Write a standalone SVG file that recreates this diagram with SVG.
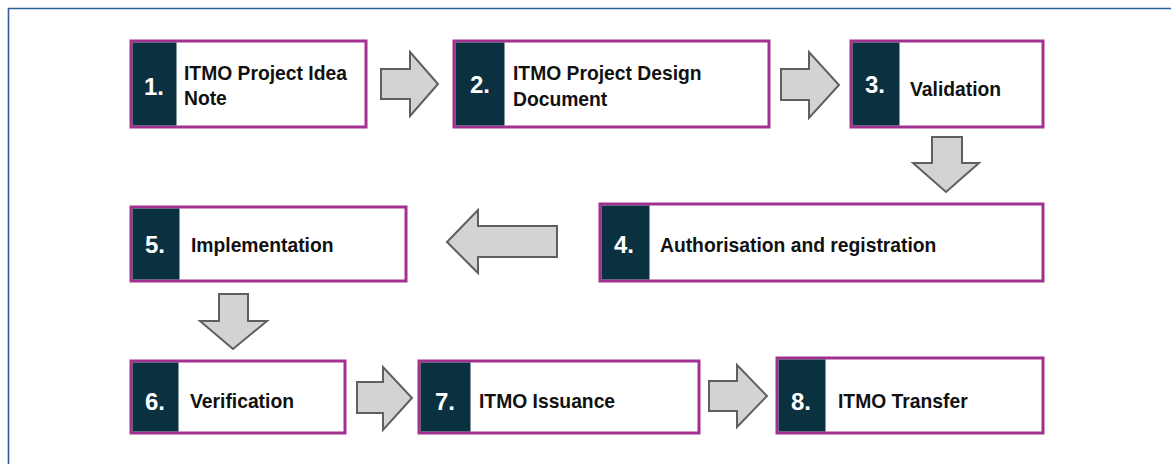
<svg xmlns="http://www.w3.org/2000/svg" width="1171" height="464" viewBox="0 0 1171 464">
<style>
.box{fill:#ffffff;stroke:#A2308F;stroke-width:3}
.num{fill:#0B3040}
.n{font-family:"Liberation Sans",Arial,sans-serif;font-weight:bold;font-size:24px;fill:#ffffff;text-anchor:middle}
.t{font-family:"Liberation Sans",Arial,sans-serif;font-weight:bold;font-size:19.3px;fill:#111111}
.arr{fill:#D3D3D3;stroke:#5f5f5f;stroke-width:2;stroke-linejoin:miter}
</style>
<rect width="1171" height="464" fill="#ffffff"/>
<path d="M8.5,464 V8.5 H1171" fill="none" stroke="#2F5F96" stroke-width="1.6"/>

<g id="node1">
<rect class="box" x="131" y="41" width="235" height="86"/>
<rect class="num" x="132.5" y="42.5" width="44" height="83"/>
<text class="n" x="154" y="95">1.</text>
<text class="t" x="184" y="80">ITMO Project Idea</text>
<text class="t" x="184" y="105">Note</text>
</g>
<g id="node2">
<rect class="box" x="454" y="41" width="315" height="86"/>
<rect class="num" x="455.5" y="42.5" width="49" height="83"/>
<text class="n" x="480" y="93">2.</text>
<text class="t" x="513" y="80">ITMO Project Design</text>
<text class="t" x="513" y="106">Document</text>
</g>
<g id="node3">
<rect class="box" x="851" y="41" width="192" height="86"/>
<rect class="num" x="852.5" y="42.5" width="47" height="83"/>
<text class="n" x="875" y="93">3.</text>
<text class="t" x="910" y="96">Validation</text>
</g>
<g id="node4">
<rect class="box" x="600" y="204" width="443" height="77"/>
<rect class="num" x="601.5" y="205.5" width="48" height="74"/>
<text class="n" x="624" y="253">4.</text>
<text class="t" x="660" y="252">Authorisation and registration</text>
</g>
<g id="node5">
<rect class="box" x="131" y="207" width="275" height="74"/>
<rect class="num" x="132.5" y="208.5" width="47" height="71"/>
<text class="n" x="155" y="253">5.</text>
<text class="t" x="191" y="252">Implementation</text>
</g>
<g id="node6">
<rect class="box" x="131" y="361" width="214" height="72"/>
<rect class="num" x="132.5" y="362.5" width="46" height="69"/>
<text class="n" x="155" y="410">6.</text>
<text class="t" x="190" y="408">Verification</text>
</g>
<g id="node7">
<rect class="box" x="419" y="361" width="280" height="72"/>
<rect class="num" x="420.5" y="362.5" width="50" height="69"/>
<text class="n" x="445" y="410">7.</text>
<text class="t" x="479" y="408">ITMO Issuance</text>
</g>
<g id="node8">
<rect class="box" x="777" y="358" width="266" height="75"/>
<rect class="num" x="778.5" y="359.5" width="47" height="72"/>
<text class="n" x="801" y="410">8.</text>
<text class="t" x="838" y="408">ITMO Transfer</text>
</g>

<g id="connectors">
<polygon class="arr" points="381,69 410,69 410,52 438,84 410,116 410,99 381,99"/>
<polygon class="arr" points="781,69 809,69 809,52 839,85 809,118 809,100 781,100"/>
<polygon class="arr" points="932,137 962,137 962,163 979,163 946,192 913,163 932,163"/>
<polygon class="arr" points="557,226 478,226 478,210 447,242 478,273 478,257 557,257"/>
<polygon class="arr" points="219,294 248,294 248,321 267,321 233,349 200,321 219,321"/>
<polygon class="arr" points="357,382 383,382 383,367 412,398 383,430 383,413 357,413"/>
<polygon class="arr" points="709,381 737,381 737,365 767,396 737,427 737,411 709,411"/>
</g>
</svg>
